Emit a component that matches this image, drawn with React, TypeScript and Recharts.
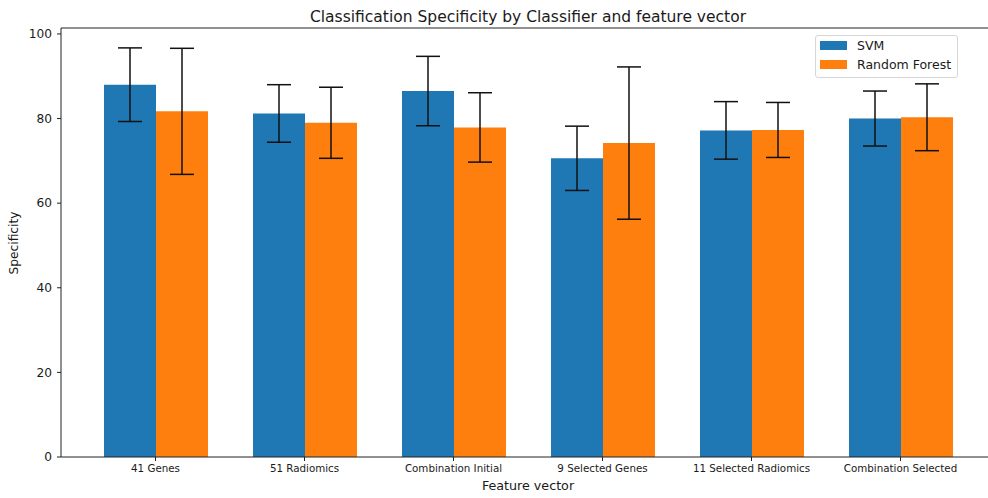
import { Bar, BarChart, ErrorBar, Label, Legend, ReferenceLine, XAxis, YAxis } from "recharts";

const categories = [
  "41 Genes",
  "51 Radiomics",
  "Combination Initial",
  "9 Selected Genes",
  "11 Selected Radiomics",
  "Combination Selected",
];
const svmMean = [88.0, 81.2, 86.5, 70.6, 77.2, 80.0];
const svmErr = [8.7, 6.8, 8.2, 7.6, 6.8, 6.5];
const rfMean = [81.7, 79.0, 77.9, 74.2, 77.3, 80.3];
const rfErr = [14.9, 8.4, 8.2, 18.0, 6.5, 7.9];
const yTicks = [0, 20, 40, 60, 80, 100];
const yMax = 101.4;

const FONT = "'DejaVu Sans', sans-serif";
const INK = "#1a1a1a";
const SVM_COLOR = "#1f77b4";
const RF_COLOR = "#ff7f0e";

const data = categories.map((name, i) => ({
  name,
  svm: svmMean[i],
  svmErr: svmErr[i],
  rf: rfMean[i],
  rfErr: rfErr[i],
}));

const legendItems = [
  { label: "SVM", color: SVM_COLOR },
  { label: "Random Forest", color: RF_COLOR },
];

const LegendBox = () => (
  <div
    style={{
      position: "relative",
      width: 143,
      height: 43,
      boxSizing: "border-box",
      border: "1px solid #d6d6d6",
      borderRadius: 3,
      background: "rgba(255,255,255,0.85)",
      fontFamily: FONT,
      fontSize: 12.5,
      color: INK,
    }}
  >
    {legendItems.map((it, i) => (
      <div key={it.label}>
        <div
          style={{
            position: "absolute",
            left: 4,
            top: 5 + i * 19,
            width: 27,
            height: 9,
            background: it.color,
          }}
        />
        <div
          style={{
            position: "absolute",
            left: 41,
            top: 2 + i * 19,
            lineHeight: "15px",
            whiteSpace: "nowrap",
          }}
        >
          {it.label}
        </div>
      </div>
    ))}
  </div>
);

export default function App() {
  return (
    <div
      style={{
        position: "absolute",
        left: 0,
        top: 0,
        width: 988,
        height: 498,
        overflow: "hidden",
        background: "#fff",
      }}
    >
      <BarChart
        width={1000}
        height={498}
        data={data}
        margin={{ top: 28, right: 5, bottom: 0, left: 0 }}
        barGap={0}
        style={{ fontFamily: FONT }}
      >
        <XAxis
          dataKey="name"
          height={41}
          tickSize={4}
          tickMargin={4}
          interval={0}
          padding={{ left: 20, right: 20 }}
          tick={{ fontSize: 10.3, fill: INK, fontFamily: FONT }}
          tickLine={{ stroke: "#222" }}
          axisLine={{ stroke: "#222", strokeWidth: 1 }}
        >
          <Label
            content={() => (
              <text
                x={528}
                y={490}
                textAnchor="middle"
                fontSize={12.7}
                fill={INK}
                fontFamily={FONT}
              >
                Feature vector
              </text>
            )}
          />
        </XAxis>
        <YAxis
          width={61}
          domain={[0, yMax]}
          ticks={yTicks}
          tickSize={4}
          tickMargin={5}
          allowDataOverflow
          tick={{ fontSize: 12.2, fill: INK, fontFamily: FONT }}
          tickLine={{ stroke: "#222" }}
          axisLine={{ stroke: "#222", strokeWidth: 1 }}
        >
          <Label
            content={() => (
              <text
                x={18}
                y={243}
                textAnchor="middle"
                fontSize={12.2}
                fill={INK}
                fontFamily={FONT}
                transform="rotate(-90, 18, 243)"
              >
                Specificity
              </text>
            )}
          />
        </YAxis>
        <ReferenceLine y={yMax} stroke="#222" strokeWidth={1}>
          <Label
            content={() => (
              <text
                x={528}
                y={21.5}
                textAnchor="middle"
                fontSize={15.5}
                fill={INK}
                fontFamily={FONT}
              >
                Classification Specificity by Classifier and feature vector
              </text>
            )}
          />
        </ReferenceLine>
        <Legend
          align="center"
          verticalAlign="middle"
          layout="horizontal"
          content={() => <LegendBox />}
          wrapperStyle={{ position: "absolute", left: 815, top: 35, width: 143, height: 43 }}
        />
        <Bar dataKey="svm" name="SVM" fill={SVM_COLOR} barSize={52} isAnimationActive={false}>
          <ErrorBar dataKey="svmErr" width={12} stroke="#111" strokeWidth={1.5} />
        </Bar>
        <Bar dataKey="rf" name="Random Forest" fill={RF_COLOR} barSize={52} isAnimationActive={false}>
          <ErrorBar dataKey="rfErr" width={12} stroke="#111" strokeWidth={1.5} />
        </Bar>
      </BarChart>
    </div>
  );
}
